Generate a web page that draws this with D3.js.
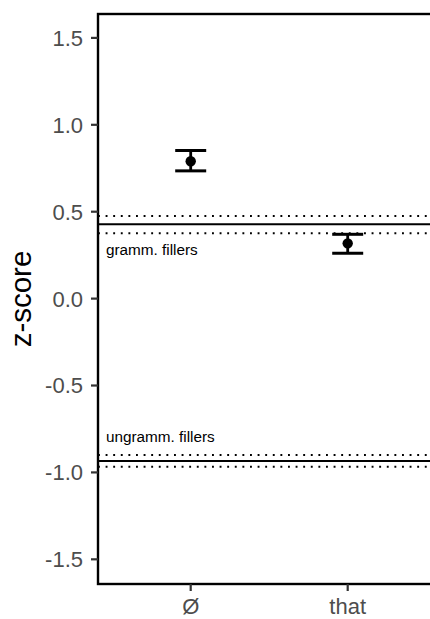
<!DOCTYPE html>
<html>
<head>
<meta charset="utf-8">
<script src="https://cdn.jsdelivr.net/npm/d3@7"></script>
<style>
  body { margin: 0; background: #fff; }
  text { font-family: "Liberation Sans", Arial, sans-serif; }
</style>
</head>
<body>
<svg id="chart" width="430" height="619"></svg>
<script>
// conditions and their means with error bars
const conditions = ["Ø", "that"]
const means = [0.79, 0.318]
const lower = [0.735, 0.261]
const upper = [0.852, 0.37]

// filler baselines (mean + CI)
const fillerNames = ["gramm. fillers", "ungramm. fillers"]
const fillerMeans = [0.428, -0.934]
const fillerLow = [0.376, -0.967]
const fillerHigh = [0.475, -0.900]
const fillerLabelY = [0.28, -0.795]

const yTicks = [-1.5, -1.0, -0.5, 0.0, 0.5, 1.0, 1.5]

let svg = d3.select("#chart")
let margin = {left: 98, top: 14, bottom: 584, right: 660}

let y = d3.scaleLinear()
    .domain([-1.642, 1.6375])
    .range([margin.bottom, margin.top])
// index scale for discrete positions (1 = first condition)
let x = d3.scaleLinear()
    .domain([1, 2])
    .range([190.7, 347.7])

let g = svg.append("g")

// panel border
g.append("rect")
    .attr("x", margin.left)
    .attr("y", margin.top)
    .attr("width", margin.right - margin.left)
    .attr("height", margin.bottom - margin.top)
    .attr("fill", "none")
    .attr("stroke", "black")
    .attr("stroke-width", 2.4)

// filler reference lines
fillerMeans.forEach(function (m, i) {
    g.append("line")
        .attr("x1", margin.left).attr("x2", margin.right)
        .attr("y1", y(m)).attr("y2", y(m))
        .attr("stroke", "black").attr("stroke-width", 1.9)
    ;[fillerLow[i], fillerHigh[i]].forEach(function (v) {
        g.append("line")
            .attr("x1", margin.left).attr("x2", margin.right)
            .attr("y1", y(v)).attr("y2", y(v))
            .attr("stroke", "black").attr("stroke-width", 1.9)
            .attr("stroke-dasharray", "1.9,5.7")
    })
    g.append("text")
        .attr("x", x(0.46))
        .attr("y", y(fillerLabelY[i]))
        .attr("dominant-baseline", "central")
        .attr("font-size", "15.3px")
        .attr("fill", "black")
        .text(fillerNames[i])
})

// error bars + points
let bars = g.selectAll(".bar")
    .data(conditions)
    .enter()
    .append("g")
bars.append("line")
    .attr("x1", (d, i) => x(i + 1)).attr("x2", (d, i) => x(i + 1))
    .attr("y1", (d, i) => y(lower[i])).attr("y2", (d, i) => y(upper[i]))
    .attr("stroke", "black").attr("stroke-width", 2.8)
;[lower, upper].forEach(function (arr) {
    bars.append("line")
        .attr("x1", (d, i) => x(i + 1) - 15.5).attr("x2", (d, i) => x(i + 1) + 15.5)
        .attr("y1", (d, i) => y(arr[i])).attr("y2", (d, i) => y(arr[i]))
        .attr("stroke", "black").attr("stroke-width", 3)
})
bars.append("circle")
    .attr("cx", (d, i) => x(i + 1))
    .attr("cy", (d, i) => y(means[i]))
    .attr("r", 5.2)
    .attr("fill", "black")

// y axis ticks
let yt = g.selectAll(".ytick").data(yTicks).enter().append("g")
yt.append("line")
    .attr("x1", margin.left - 7).attr("x2", margin.left)
    .attr("y1", d => y(d)).attr("y2", d => y(d))
    .attr("stroke", "#333").attr("stroke-width", 2.2)
yt.append("text")
    .attr("x", margin.left - 15)
    .attr("y", d => y(d))
    .attr("dy", "0.36em")
    .attr("text-anchor", "end")
    .attr("font-size", "22px")
    .attr("fill", "#4D4D4D")
    .text(d => d.toFixed(1))

// x axis ticks
let xt = g.selectAll(".xtick").data(conditions).enter().append("g")
xt.append("line")
    .attr("x1", (d, i) => x(i + 1)).attr("x2", (d, i) => x(i + 1))
    .attr("y1", margin.bottom).attr("y2", margin.bottom + 7)
    .attr("stroke", "#333").attr("stroke-width", 2.2)
xt.append("text")
    .attr("x", (d, i) => x(i + 1))
    .attr("y", 614)
    .attr("text-anchor", "middle")
    .attr("font-size", "22px")
    .attr("fill", "#4D4D4D")
    .text(d => d)

// y axis title
g.append("text")
    .attr("transform", `translate(31,${(margin.top + margin.bottom) / 2}) rotate(-90)`)
    .attr("text-anchor", "middle")
    .attr("font-size", "29.5px")
    .attr("fill", "black")
    .text("z-score")
</script>
</body>
</html>
